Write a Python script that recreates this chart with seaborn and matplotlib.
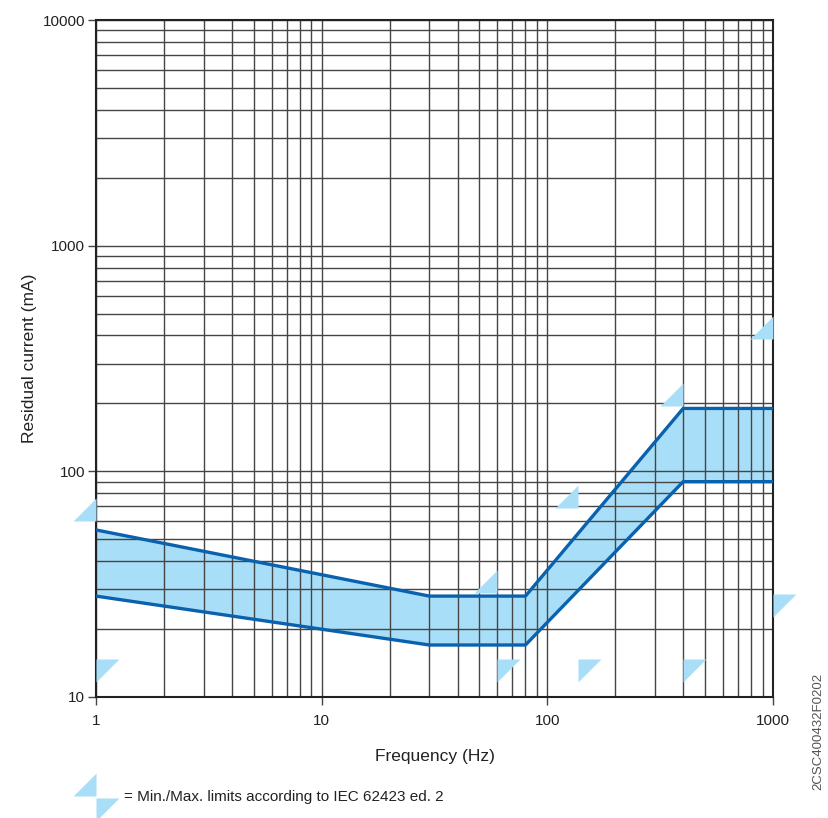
import numpy as np
import pandas as pd
import matplotlib
matplotlib.use("Agg")
import matplotlib.pyplot as plt
import seaborn as sns
from matplotlib.path import Path
from matplotlib.ticker import LogLocator, FixedLocator, NullFormatter
from matplotlib.lines import Line2D

# ---- data ----
freq = [1, 30, 80, 400, 1000]
upper_ma = [55, 28, 28, 190, 190]
lower_ma = [28, 17, 17, 90, 90]

max_lim_freq = [1, 60, 137, 400, 1000]
max_lim_ma = [60, 29, 69, 195, 386]
min_lim_freq = [1, 60, 137, 400, 1000]
min_lim_ma = [14.8, 14.8, 14.8, 14.8, 28.6]

x_ticks = [1, 10, 100, 1000]
x_tick_labels = ["1", "10", "100", "1000"]
y_ticks = [10, 100, 1000, 10000]
y_tick_labels = ["10", "100", "1000", "10000"]

# ---- style ----
sns.set_style("white")
plt.rcParams["font.family"] = ["Liberation Sans", "DejaVu Sans"]

LINE = "#0a62ae"
FILL = "#a9def8"
GRID = "#454545"
TEXT = "#222222"

fig = plt.figure(figsize=(8.29, 8.18), dpi=100)
ax = fig.add_axes([96 / 829, 1 - 697 / 818, 677 / 829, 677 / 818])
ax.set_xscale("log")
ax.set_yscale("log")
ax.set_xlim(1, 1000)
ax.set_ylim(10, 10000)

df = pd.DataFrame({"freq": freq, "upper": upper_ma, "lower": lower_ma})
ax.fill_between(df["freq"], df["lower"], df["upper"], color=FILL, lw=0, zorder=1)
sns.lineplot(data=df, x="freq", y="upper", color=LINE, lw=2.4, ax=ax,
             estimator=None, sort=False, zorder=4)
sns.lineplot(data=df, x="freq", y="lower", color=LINE, lw=2.4, ax=ax,
             estimator=None, sort=False, zorder=4)

# triangle markers (right angle at the data point)
max_tri = Path([(0, 0), (-1, 0), (0, 1), (0, 0)],
               [Path.MOVETO, Path.LINETO, Path.LINETO, Path.CLOSEPOLY])
min_tri = Path([(0, 0), (1, 0), (0, -1), (0, 0)],
               [Path.MOVETO, Path.LINETO, Path.LINETO, Path.CLOSEPOLY])
msize = 33.0
sns.scatterplot(x=max_lim_freq, y=max_lim_ma, marker=max_tri, s=msize ** 2,
                color=FILL, linewidth=0, ax=ax, clip_on=False, zorder=3)
sns.scatterplot(x=min_lim_freq, y=min_lim_ma, marker=min_tri, s=msize ** 2,
                color=FILL, linewidth=0, ax=ax, clip_on=False, zorder=3)

# grid
ax.set_axisbelow("line")
ax.xaxis.set_major_locator(FixedLocator(x_ticks))
ax.yaxis.set_major_locator(FixedLocator(y_ticks))
ax.xaxis.set_minor_locator(LogLocator(base=10, subs=np.arange(2, 10), numticks=20))
ax.yaxis.set_minor_locator(LogLocator(base=10, subs=np.arange(2, 10), numticks=20))
ax.xaxis.set_minor_formatter(NullFormatter())
ax.yaxis.set_minor_formatter(NullFormatter())
ax.set_xticklabels(x_tick_labels)
ax.set_yticklabels(y_tick_labels)
ax.grid(which="both", color=GRID, lw=1.0)
ax.tick_params(which="minor", length=0)
ax.tick_params(which="major", direction="out", length=6, width=1.0,
               color=GRID, labelsize=11, labelcolor=TEXT, left=True, bottom=True)
ax.tick_params(axis="x", pad=6)
ax.tick_params(axis="y", pad=2)
for sp in ax.spines.values():
    sp.set_visible(True)
    sp.set_color("#222222")
    sp.set_linewidth(1.5)

ax.set_xlabel("Frequency (Hz)", fontsize=12.5, color=TEXT, labelpad=15)
ax.set_ylabel("Residual current (mA)", fontsize=12.5, color=TEXT, labelpad=4)

# legend explanation
fig.add_artist(Line2D([96 / 829], [1 - 796 / 818], marker=max_tri, markersize=msize,
                      color=FILL, markeredgewidth=0, transform=fig.transFigure))
fig.add_artist(Line2D([96 / 829], [1 - 798 / 818], marker=min_tri, markersize=msize,
                      color=FILL, markeredgewidth=0, transform=fig.transFigure))
fig.text(124 / 829, 1 - 797 / 818, "= Min./Max. limits according to IEC 62423 ed. 2",
         fontsize=11, color=TEXT, va="center", ha="left")

fig.text(818 / 829, 1 - 731 / 818, "2CSC400432F0202", rotation=90, fontsize=9.5,
         color="#555555", va="center", ha="center")

fig.savefig("out.png", dpi=100)
